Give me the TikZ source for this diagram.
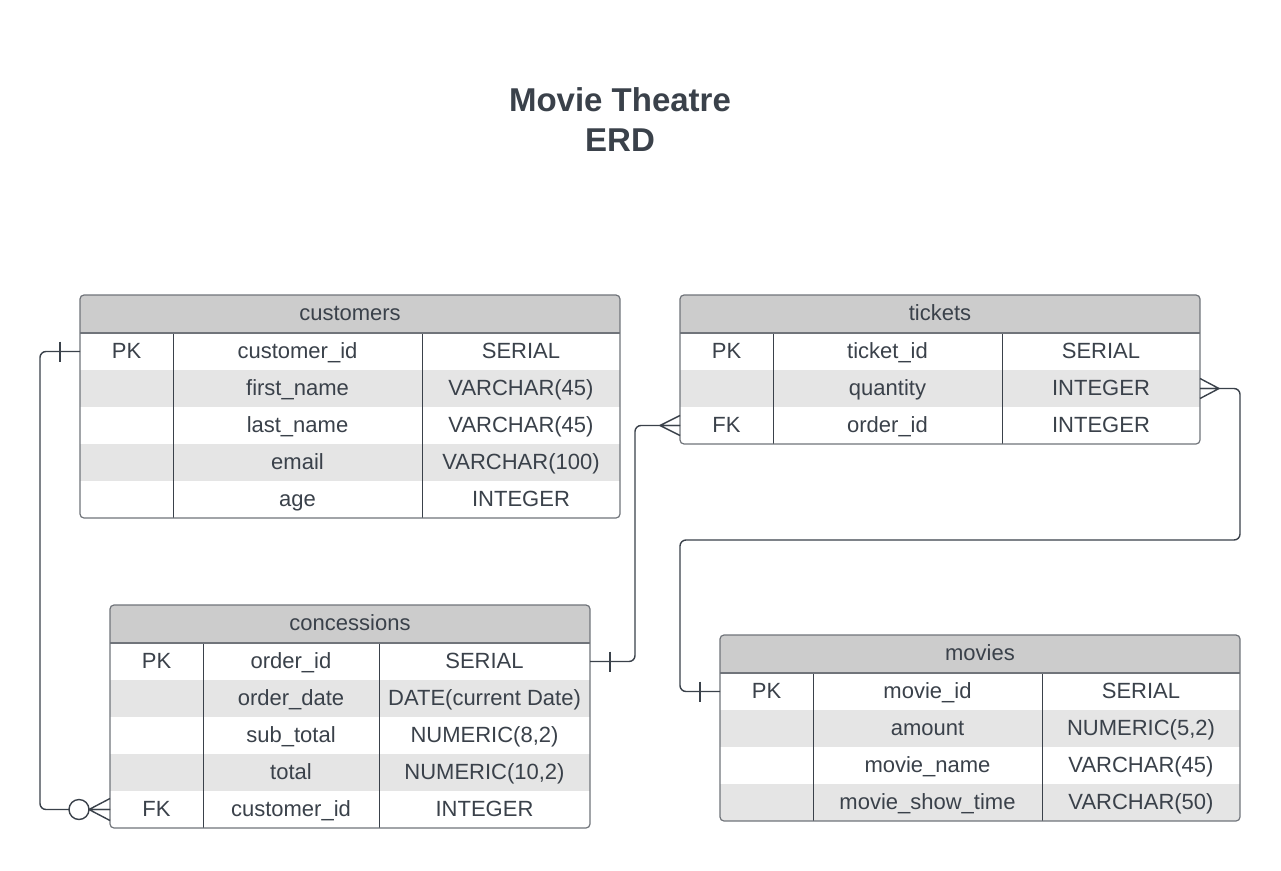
\documentclass[tikz,border=0pt]{standalone}
\usepackage{fontspec}
\setmainfont{Liberation Sans}
\usetikzlibrary{positioning}
\definecolor{erdInk}{HTML}{3A414A}
\definecolor{hdGray}{HTML}{CCCCCC}
\definecolor{rowGray}{HTML}{E5E5E5}
\definecolor{frameGray}{HTML}{70747A}
\tikzset{
  erdCell/.style={inner sep=0pt, outer sep=0pt, minimum height=37pt,
    text height=14pt, text depth=0pt, text=erdInk,
    font=\fontsize{22}{26}\selectfont},
  erdHead/.style={erdCell, fill=hdGray, minimum height=38pt, text height=12pt},
  erdFrame/.style={draw=frameGray, line width=1.2pt, rounded corners=4pt},
  erdCol/.style={draw=erdInk, line width=1pt},
  %% Relationship lines and end marks
  erdRel/.style={draw=erdInk, line width=1.4pt, rounded corners=6pt},
  erdMark/.style={draw=erdInk, line width=1.4pt},
}

\begin{document}
\begin{tikzpicture}[x=1pt, y=-1pt]
\fill[white] (0,0) rectangle (1281,870);
\useasboundingbox (0,0) rectangle (1281,870);

%% Title
\node[font=\fontsize{33}{40}\selectfont\bfseries, text=erdInk, align=center] (title) at (620,120) {Movie Theatre\\ERD};

%% customers
\begin{scope}
  \clip[rounded corners=4pt] (80,295) rectangle (620,518);
  \node[erdHead, minimum width=540pt] (cu-h) at (350,314) {customers};
  \foreach \k/\n/\t/\f [count=\i] in {PK/customer\_id/SERIAL/white, {}/first\_name/VARCHAR(45)/rowGray,
      {}/last\_name/VARCHAR(45)/white, {}/email/VARCHAR(100)/rowGray, {}/age/INTEGER/white}{
    \node[erdCell, fill=\f, minimum width=93pt]  (cu-\i-a) at (126.5, 314.5+37*\i) {\k};
    \node[erdCell, fill=\f, minimum width=249pt] (cu-\i-b) at (297.5, 314.5+37*\i) {\n};
    \node[erdCell, fill=\f, minimum width=198pt] (cu-\i-c) at (521, 314.5+37*\i) {\t};
  }
\end{scope}
\draw[erdCol] (cu-1-a.north east) -- (cu-5-a.south east);
\draw[erdCol] (cu-1-b.north east) -- (cu-5-b.south east);
\draw[erdFrame, sharp corners] (cu-h.south west) -- (cu-h.south east);
\draw[erdFrame] (cu-h.north west) rectangle (cu-5-c.south east);

%% tickets
\begin{scope}
  \clip[rounded corners=4pt] (680,295) rectangle (1200,444);
  \node[erdHead, minimum width=520pt] (ti-h) at (940,314) {tickets};
  \foreach \k/\n/\t/\f [count=\i] in {PK/ticket\_id/SERIAL/white, {}/quantity/INTEGER/rowGray,
      FK/order\_id/INTEGER/white}{
    \node[erdCell, fill=\f, minimum width=93pt]  (ti-\i-a) at (726.5, 314.5+37*\i) {\k};
    \node[erdCell, fill=\f, minimum width=229pt] (ti-\i-b) at (887.5, 314.5+37*\i) {\n};
    \node[erdCell, fill=\f, minimum width=198pt] (ti-\i-c) at (1101, 314.5+37*\i) {\t};
  }
\end{scope}
\draw[erdCol] (ti-1-a.north east) -- (ti-3-a.south east);
\draw[erdCol] (ti-1-b.north east) -- (ti-3-b.south east);
\draw[erdFrame, sharp corners] (ti-h.south west) -- (ti-h.south east);
\draw[erdFrame] (ti-h.north west) rectangle (ti-3-c.south east);

%% concessions
\begin{scope}
  \clip[rounded corners=4pt] (110,605) rectangle (590,828);
  \node[erdHead, minimum width=480pt] (co-h) at (350,624) {concessions};
  \foreach \k/\n/\t/\f [count=\i] in {PK/order\_id/SERIAL/white, {}/order\_date/DATE(current Date)/rowGray,
      {}/sub\_total/{NUMERIC(8,2)}/white, {}/total/{NUMERIC(10,2)}/rowGray, FK/customer\_id/INTEGER/white}{
    \node[erdCell, fill=\f, minimum width=93pt]  (co-\i-a) at (156.5, 624.5+37*\i) {\k};
    \node[erdCell, fill=\f, minimum width=176pt] (co-\i-b) at (291, 624.5+37*\i) {\n};
    \node[erdCell, fill=\f, minimum width=211pt] (co-\i-c) at (484.5, 624.5+37*\i) {\t};
  }
\end{scope}
\draw[erdCol] (co-1-a.north east) -- (co-5-a.south east);
\draw[erdCol] (co-1-b.north east) -- (co-5-b.south east);
\draw[erdFrame, sharp corners] (co-h.south west) -- (co-h.south east);
\draw[erdFrame] (co-h.north west) rectangle (co-5-c.south east);

%% movies
\begin{scope}
  \clip[rounded corners=4pt] (720,635) rectangle (1240,821);
  \node[erdHead, minimum width=520pt] (mo-h) at (980,654) {movies};
  \foreach \k/\n/\t/\f [count=\i] in {PK/movie\_id/SERIAL/white, {}/amount/{NUMERIC(5,2)}/rowGray,
      {}/movie\_name/VARCHAR(45)/white, {}/movie\_show\_time/VARCHAR(50)/rowGray}{
    \node[erdCell, fill=\f, minimum width=93pt]  (mo-\i-a) at (766.5, 654.5+37*\i) {\k};
    \node[erdCell, fill=\f, minimum width=229pt] (mo-\i-b) at (927.5, 654.5+37*\i) {\n};
    \node[erdCell, fill=\f, minimum width=198pt] (mo-\i-c) at (1141, 654.5+37*\i) {\t};
  }
\end{scope}
\draw[erdCol] (mo-1-a.north east) -- (mo-4-a.south east);
\draw[erdCol] (mo-1-b.north east) -- (mo-4-b.south east);
\draw[erdFrame, sharp corners] (mo-h.south west) -- (mo-h.south east);
\draw[erdFrame] (mo-h.north west) rectangle (mo-4-c.south east);

%% customers (one) -- concessions (zero or many)
\draw[erdRel] (cu-1-a.west) -- ++(-40,0) |- (co-5-a.west);
\draw[erdMark] ([xshift=-20pt]cu-1-a.west) +(0,-10) -- +(0,10);
\draw[erdMark] ([xshift=-21pt]co-5-a.west) -- ([yshift=11pt]co-5-a.west)
  ([xshift=-21pt]co-5-a.west) -- (co-5-a.west)
  ([xshift=-21pt]co-5-a.west) -- ([yshift=-11pt]co-5-a.west);
\draw[erdMark, fill=white] ([xshift=-31pt]co-5-a.west) circle (10pt);

%% concessions (one) -- tickets (many)
\draw[erdRel] (co-1-c.east) -- ++(45,0) |- (ti-3-a.west);
\draw[erdMark] ([xshift=20pt]co-1-c.east) +(0,-10) -- +(0,10);
\draw[erdMark] ([xshift=-20pt]ti-3-a.west) -- ([yshift=10pt]ti-3-a.west)
  ([xshift=-20pt]ti-3-a.west) -- (ti-3-a.west)
  ([xshift=-20pt]ti-3-a.west) -- ([yshift=-10pt]ti-3-a.west);

%% tickets (many) -- movies (one)
\coordinate (tmLoop) at (680,540);
\draw[erdRel] (ti-2-c.east) -- ++(40,0) |- (tmLoop) |- (mo-1-a.west);
\draw[erdMark] ([xshift=19pt]ti-2-c.east) -- ([yshift=10pt]ti-2-c.east)
  ([xshift=19pt]ti-2-c.east) -- (ti-2-c.east)
  ([xshift=19pt]ti-2-c.east) -- ([yshift=-10pt]ti-2-c.east);
\draw[erdMark] ([xshift=-20pt]mo-1-a.west) +(0,-10) -- +(0,10);

\end{tikzpicture}
\end{document}
